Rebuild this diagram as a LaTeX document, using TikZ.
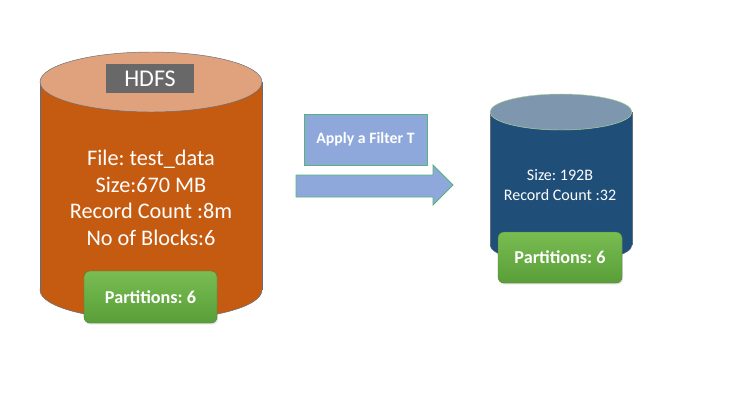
\documentclass[tikz,border=0pt]{standalone}
\usepackage{fontspec}
\setmainfont{Carlito}
\usetikzlibrary{positioning,shadows}
\definecolor{hdfsorange}{RGB}{197,90,17}
\definecolor{hdfstop}{RGB}{224,162,124}
\definecolor{hdfsgray}{RGB}{104,104,104}
\definecolor{outblue}{RGB}{31,78,121}
\definecolor{outtop}{RGB}{126,150,174}
\definecolor{filterblue}{RGB}{143,168,220}
\definecolor{filteredge}{RGB}{86,180,122}
\definecolor{greentop}{RGB}{120,188,82}
\definecolor{greenbot}{RGB}{90,158,56}
\definecolor{rimgray}{RGB}{96,110,124}

\begin{document}
\frenchspacing
\begin{tikzpicture}[x=0.03cm,y=-0.03cm,
    partbox/.style={rounded corners=5pt,top color=greentop,bottom color=greenbot,
        draw=greenbot!80!black,line width=0.3pt,text=white,inner sep=0pt,
        drop shadow={opacity=0.25,shadow xshift=0.8pt,shadow yshift=-1.2pt},
        font=\fontsize{15.5}{18}\selectfont\bfseries},
    infotext/.style={text=white,align=center}]
    \useasboundingbox[fill=white] (0,0) rectangle (739,416);

    % Source cylinder (HDFS)
    \filldraw[fill=hdfsorange,draw=rimgray] (151,290) ellipse [x radius=111,y radius=30];
    \fill[hdfsorange] (40,82) rectangle (262,290);
    \draw[rimgray] (40,82) -- (40,290) (262,82) -- (262,290);
    \filldraw[fill=hdfstop,draw=rimgray] (151,82) ellipse [x radius=111,y radius=30];
    \node[fill=hdfsgray,text=white,minimum width=2.64cm,minimum height=0.87cm,inner sep=0pt,
        font=\fontsize{20.5}{22}\selectfont] (hdfs) at (150,78.5) {HDFS};
    \node[infotext,font=\fontsize{19}{22.7}\selectfont] (srcinfo) at (151,198)
        {File: test\_data\\Size:670 MB\\Record Count :8m\\No of Blocks:6};
    \node[partbox,minimum width=3.99cm,minimum height=1.56cm] (srcpart) at (150.5,297) {Partitions: 6};

    % Filter step
    \node[fill=filterblue,draw=filteredge,line width=0.8pt,text=white,inner sep=0pt,
        minimum width=3.69cm,minimum height=1.53cm,
        font=\fontsize{13.5}{15}\selectfont\bfseries] (filter) at (365.5,139.5) {Apply a Filter T};
    \draw[fill=filterblue,draw=filteredge,line width=0.8pt]
        (296,175) -- (433,175) -- (433,165) -- (453,185) -- (433,205) -- (433,197) -- (296,197) -- cycle;

    % Result cylinder
    \filldraw[fill=outblue,draw=rimgray] (561,245) ellipse [x radius=71,y radius=18];
    \fill[outblue] (490,112) rectangle (632,245);
    \draw[rimgray] (490,112) -- (490,245) (632,112) -- (632,245);
    \filldraw[fill=outtop,draw=greentop!60!white] (561,112) ellipse [x radius=71,y radius=18];
    \node[infotext,font=\fontsize{13.7}{17}\selectfont] (outinfo) at (560,185)
        {Size: 192B\\Record Count :32};
    \node[partbox,minimum width=3.72cm,minimum height=1.53cm] (outpart) at (560,257.5) {Partitions: 6};
\end{tikzpicture}
\end{document}
